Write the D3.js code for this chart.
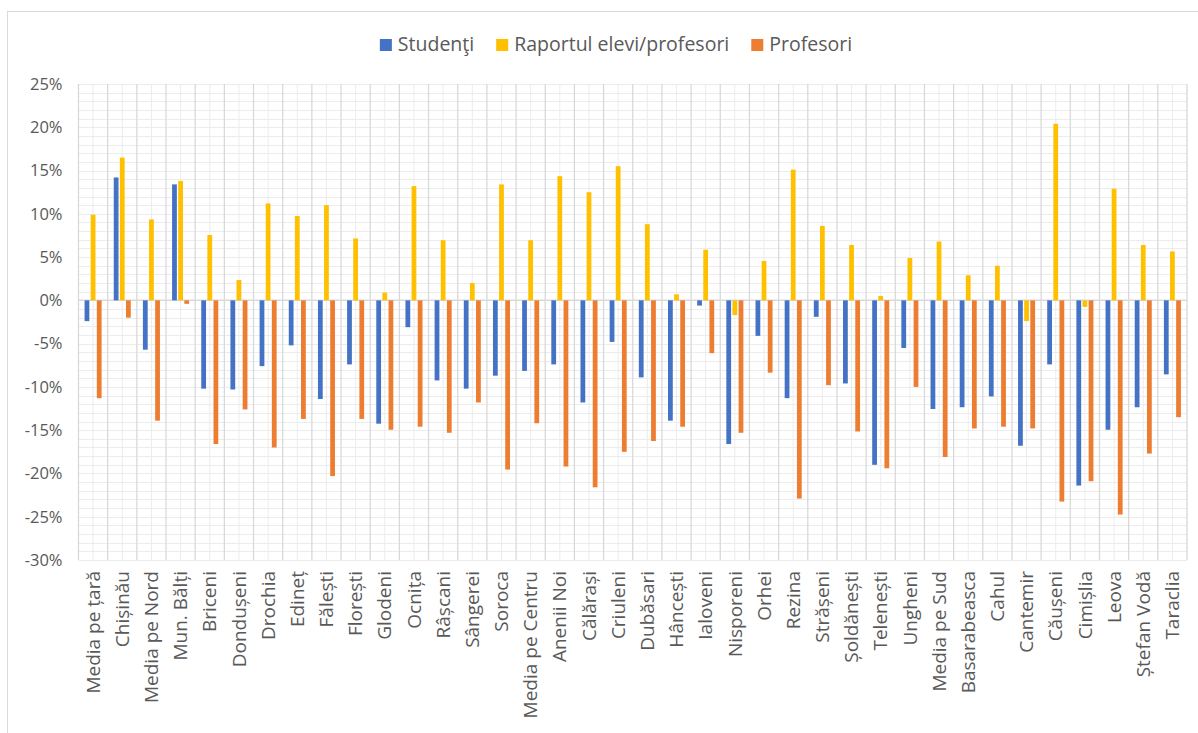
<!DOCTYPE html>
<html>
<head>
<meta charset="utf-8">
<script src="https://cdn.jsdelivr.net/npm/d3@7/dist/d3.min.js"></script>
<style>
  html, body { margin: 0; padding: 0; background: #fff; }
  svg { display: block; font-family: "Open Sans", "Noto Sans", sans-serif; }
</style>
</head>
<body>
<svg id="chart" width="1198" height="733"></svg>
<script>
// Districts and regional averages along the category axis
const categories = [
  "Media pe țară", "Chișinău", "Media pe Nord", "Mun. Bălți", "Briceni", "Dondușeni",
  "Drochia", "Edineț", "Fălești", "Florești", "Glodeni", "Ocnița", "Râșcani",
  "Sângerei", "Soroca", "Media pe Centru", "Anenii Noi", "Călărași", "Criuleni",
  "Dubăsari", "Hâncești", "Ialoveni", "Nisporeni", "Orhei", "Rezina", "Strășeni",
  "Șoldănești", "Telenești", "Ungheni", "Media pe Sud", "Basarabeasca", "Cahul",
  "Cantemir", "Căușeni", "Cimișlia", "Leova", "Ștefan Vodă", "Taraclia"
];

// Relative change, in percent
const studenti = [
  -2.4, 14.2, -5.7, 13.4, -10.2, -10.3, -7.6, -5.2, -11.4, -7.4, -14.25, -3.1, -9.25,
  -10.2, -8.7, -8.15, -7.4, -11.8, -4.8, -8.9, -13.9, -0.6, -16.6, -4.1, -11.3, -1.9,
  -9.6, -19.0, -5.5, -12.55, -12.35, -11.1, -16.8, -7.4, -21.4, -14.95, -12.35, -8.55
];
const raportul = [
  9.9, 16.5, 9.35, 13.8, 7.55, 2.35, 11.2, 9.75, 11.0, 7.15, 0.9, 13.2, 6.95,
  2.0, 13.4, 6.95, 14.35, 12.5, 15.5, 8.8, 0.7, 5.85, -1.7, 4.55, 15.1, 8.6,
  6.4, 0.5, 4.9, 6.8, 2.9, 4.0, -2.4, 20.4, -0.75, 12.9, 6.4, 5.65
];
const profesori = [
  -11.3, -2.0, -13.9, -0.4, -16.6, -12.6, -17.0, -13.7, -20.3, -13.7, -14.95, -14.6, -15.3,
  -11.8, -19.55, -14.2, -19.2, -21.6, -17.5, -16.25, -14.6, -6.1, -15.3, -8.35, -22.9, -9.8,
  -15.15, -19.4, -10.0, -18.1, -14.8, -14.6, -14.8, -23.25, -20.9, -24.75, -17.7, -13.5
];

const seriesNames = ["Studenţi", "Raportul elevi/profesori", "Profesori"];
const seriesColors = ["#4472C4", "#FFC000", "#ED7D31"];
const seriesValues = [studenti, raportul, profesori];

const yTicks = [25, 20, 15, 10, 5, 0, -5, -10, -15, -20, -25, -30];

const svg = d3.select("#chart");
const plot = { left: 78.5, right: 1187, top: 84, bottom: 560 };
const textColor = "#595959";

// Outer chart frame
svg.append("rect")
  .attr("x", 7.5).attr("y", 11.5)
  .attr("width", 1220).attr("height", 760)
  .attr("fill", "#fff")
  .attr("stroke", "#d9d9d9").attr("stroke-width", 1);

const x = d3.scaleBand().domain(categories).range([plot.left, plot.right]).padding(0);
const y = d3.scaleLinear().domain([-30, 25]).range([plot.bottom, plot.top]);

const bw = x.bandwidth();
const slot = bw * 0.21;
const xs = d3.scaleBand()
  .domain(seriesNames)
  .range([bw / 2 - 1.5 * slot, bw / 2 + 1.5 * slot])
  .paddingInner(0.22).paddingOuter(0.11);

// Gridlines
const grid = svg.append("g");
grid.selectAll("line.hminor")
  .data(d3.range(-30, 26, 1))
  .join("line")
  .attr("x1", plot.left).attr("x2", plot.right)
  .attr("y1", d => Math.round(y(d)) + 0.5).attr("y2", d => Math.round(y(d)) + 0.5)
  .attr("stroke", "#ececec").attr("stroke-width", 1);
grid.selectAll("line.vminor")
  .data(categories)
  .join("line")
  .attr("x1", d => x(d) + bw / 2).attr("x2", d => x(d) + bw / 2)
  .attr("y1", plot.top).attr("y2", plot.bottom)
  .attr("stroke", "#ececec").attr("stroke-width", 1);
grid.selectAll("line.vmajor")
  .data(d3.range(categories.length + 1))
  .join("line")
  .attr("x1", i => plot.left + i * bw).attr("x2", i => plot.left + i * bw)
  .attr("y1", plot.top).attr("y2", plot.bottom)
  .attr("stroke", "#d9d9d9").attr("stroke-width", 1.3);

// Zero line
svg.append("line")
  .attr("x1", plot.left).attr("x2", plot.right)
  .attr("y1", y(0)).attr("y2", y(0))
  .attr("stroke", "#d9d9d9").attr("stroke-width", 1.5);

// Bars
seriesNames.forEach((name, si) => {
  svg.append("g")
    .selectAll("rect")
    .data(categories.map((c, i) => ({ c, v: seriesValues[si][i] })))
    .join("rect")
    .attr("x", d => x(d.c) + xs(name))
    .attr("width", xs.bandwidth())
    .attr("y", d => y(Math.max(0, d.v)))
    .attr("height", d => Math.abs(y(d.v) - y(0)))
    .attr("fill", seriesColors[si]);
});

// Y axis labels
const yAxis = d3.axisLeft(y)
  .tickValues(yTicks)
  .tickSize(0)
  .tickPadding(16)
  .tickFormat(d => d + "%");
const yg = svg.append("g").attr("transform", `translate(${plot.left},0)`).call(yAxis);
yg.select(".domain").remove();
yg.selectAll("text")
  .attr("fill", textColor)
  .style("font-size", "16.5px")
  .style("font-family", "'Open Sans', sans-serif");

// X axis labels, rotated
const xAxis = d3.axisBottom(x).tickSize(0).tickPadding(0);
const xg = svg.append("g").attr("transform", `translate(0,${plot.bottom})`).call(xAxis);
xg.select(".domain").remove();
xg.selectAll("text")
  .attr("fill", textColor)
  .style("font-size", "19px")
  .style("font-family", "'Open Sans', sans-serif")
  .attr("transform", "rotate(-90)")
  .attr("text-anchor", "end")
  .attr("x", -11)
  .attr("y", 0)
  .attr("dy", "0.35em");

// Legend
const legend = svg.append("g");
const items = legend.selectAll("g")
  .data(seriesNames)
  .join("g");
items.append("rect")
  .attr("width", 12).attr("height", 12)
  .attr("y", -12)
  .attr("fill", (d, i) => seriesColors[i]);
items.append("text")
  .attr("x", 18).attr("y", 0)
  .attr("fill", textColor)
  .style("font-size", "19.5px")
  .text(d => d);
let cursor = 0;
const gap = 22;
const widths = [];
items.each(function () {
  const w = 18 + this.querySelector("text").getComputedTextLength();
  widths.push(w);
});
const total = d3.sum(widths) + gap * (widths.length - 1);
const startX = 616 - total / 2;
items.attr("transform", (d, i) => {
  const tx = startX + cursor;
  cursor += widths[i] + gap;
  return `translate(${tx},51)`;
});
</script>
</body>
</html>
